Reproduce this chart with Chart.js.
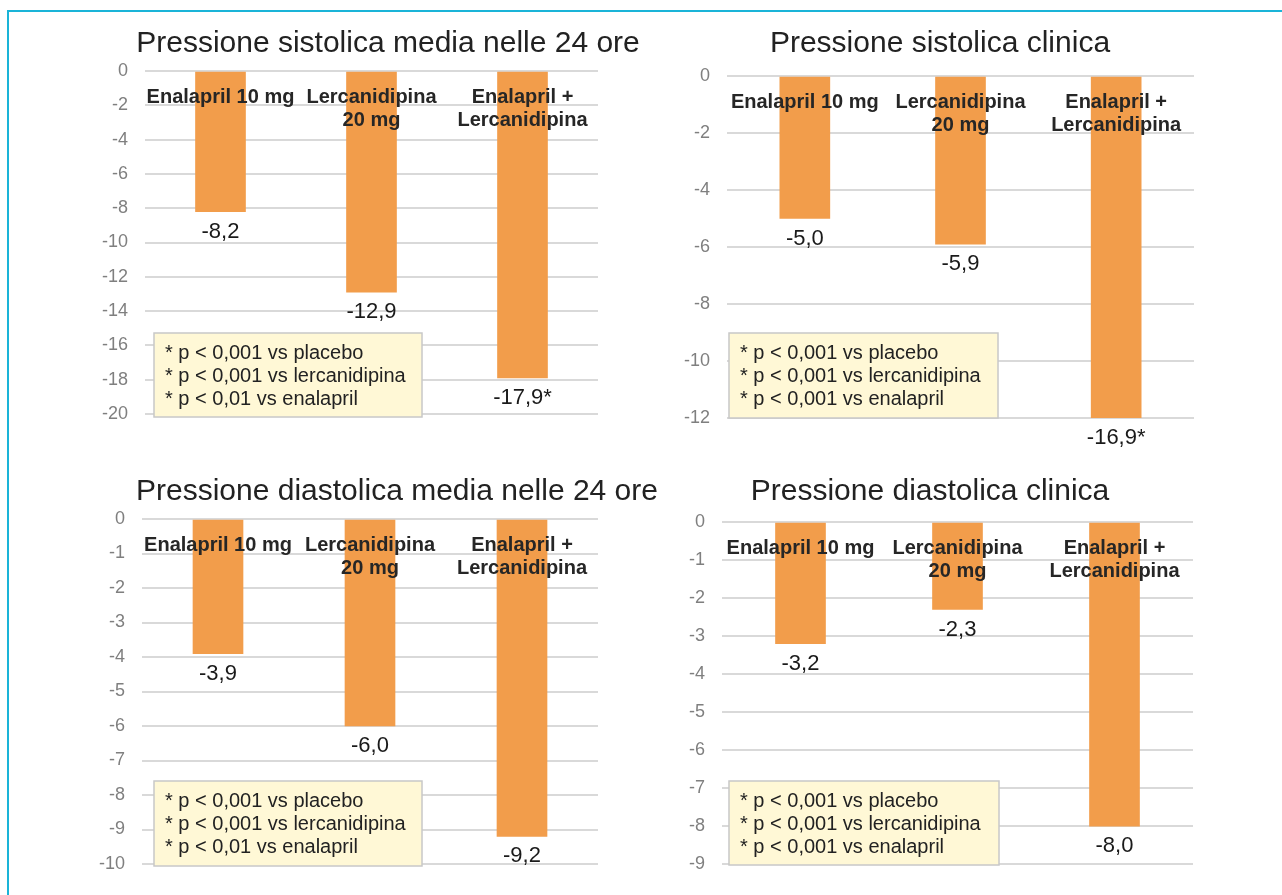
<!DOCTYPE html>
<html>
<head>
<meta charset="utf-8">
<title>Pressione arteriosa: enalapril, lercanidipina e associazione</title>
<script src="https://cdn.jsdelivr.net/npm/chart.js@4.4.1/dist/chart.umd.min.js"></script>
<style>
  html, body { margin: 0; padding: 0; background: #fff; width: 1282px; height: 895px; overflow: hidden; }
  #frame { position: absolute; left: 7px; top: 10px; width: 1400px; height: 1000px;
           border-left: 2px solid #1ab4d8; border-top: 2px solid #1ab4d8; }
  canvas { position: absolute; }
</style>
</head>
<body>
<div id="frame"></div>
<canvas id="c1"></canvas>
<canvas id="c2"></canvas>
<canvas id="c3"></canvas>
<canvas id="c4"></canvas>
<script>
// Treatment groups (multi-line category labels)
const categories = [['Enalapril 10 mg'], ['Lercanidipina', '20 mg'], ['Enalapril +', 'Lercanidipina']];

// Mean change from baseline (mmHg)
const sysAmbValues  = [-8.2, -12.9, -17.9];   // systolic, 24-hour mean
const sysClinValues = [-5.0, -5.9, -16.9];    // systolic, clinic
const diaAmbValues  = [-3.9, -6.0, -9.2];     // diastolic, 24-hour mean
const diaClinValues = [-3.2, -2.3, -8.0];     // diastolic, clinic

// Significance marks appended to the value labels
const marksStar = ['', '', '*'];
const marksNone = ['', '', ''];

// Y-axis tick values
const sysAmbTicks  = [0, -2, -4, -6, -8, -10, -12, -14, -16, -18, -20];
const sysClinTicks = [0, -2, -4, -6, -8, -10, -12];
const diaAmbTicks  = [0, -1, -2, -3, -4, -5, -6, -7, -8, -9, -10];
const diaClinTicks = [0, -1, -2, -3, -4, -5, -6, -7, -8, -9];

// Statistical notes
const notesA = ['* p < 0,001 vs placebo', '* p < 0,001 vs lercanidipina', '* p < 0,01 vs enalapril'];
const notesB = ['* p < 0,001 vs placebo', '* p < 0,001 vs lercanidipina', '* p < 0,001 vs enalapril'];

const FONT = "'Liberation Sans', Arial, Helvetica, sans-serif";
const BAR_COLOR = '#f29d4b';

// Page layout of each panel (canvas box, plot area, title anchor, notes box)
const panels = [
  { id: 'c1', title: 'Pressione sistolica media nelle 24 ore', values: sysAmbValues, ticks: sysAmbTicks,
    marks: marksStar, notes: notesA,
    box: { left: 10, top: 14, width: 640, height: 440 },
    area: { left: 145, top: 71, right: 598, bottom: 414 },
    titlePos: { x: 388, y: 44 },
    noteBox: { left: 154, top: 333, width: 268, height: 84 } },
  { id: 'c2', title: 'Pressione sistolica clinica', values: sysClinValues, ticks: sysClinTicks,
    marks: marksStar, notes: notesB,
    box: { left: 655, top: 14, width: 620, height: 440 },
    area: { left: 727, top: 76, right: 1194, bottom: 418 },
    titlePos: { x: 940, y: 44 },
    noteBox: { left: 729, top: 333, width: 269, height: 85 } },
  { id: 'c3', title: 'Pressione diastolica media nelle 24 ore', values: diaAmbValues, ticks: diaAmbTicks,
    marks: marksNone, notes: notesA,
    box: { left: 10, top: 460, width: 660, height: 432 },
    area: { left: 142, top: 519, right: 598, bottom: 864 },
    titlePos: { x: 397, y: 492 },
    noteBox: { left: 154, top: 781, width: 268, height: 85 } },
  { id: 'c4', title: 'Pressione diastolica clinica', values: diaClinValues, ticks: diaClinTicks,
    marks: marksNone, notes: notesB,
    box: { left: 655, top: 460, width: 620, height: 432 },
    area: { left: 722, top: 522, right: 1193, bottom: 865 },
    titlePos: { x: 930, y: 492 },
    noteBox: { left: 729, top: 781, width: 270, height: 84 } }
];

function formatValue(v, mark) {
  return v.toFixed(1).replace('.', ',') + mark;
}

// Draws category names, value labels, the notes box and the title
const panelText = {
  id: 'panelText',
  afterDatasetsDraw(chart, args, opts) {
    const p = opts.panel;
    const ctx = chart.ctx;
    const xs = chart.scales.x;
    const area = chart.chartArea;
    const ox = p.box.left, oy = p.box.top;
    ctx.save();

    // category names across the top of the plot
    ctx.fillStyle = '#262626';
    ctx.font = 'bold 20px ' + FONT;
    ctx.textAlign = 'center';
    ctx.textBaseline = 'middle';
    categories.forEach((lines, i) => {
      const x = xs.getPixelForValue(i);
      lines.forEach((t, j) => ctx.fillText(t, x, area.top + 26 + j * 23));
    });

    // value labels under each bar end
    const meta = chart.getDatasetMeta(0);
    ctx.fillStyle = '#1a1a1a';
    ctx.font = '22px ' + FONT;
    meta.data.forEach((bar, i) => {
      const yEnd = Math.min(bar.y, area.bottom);
      ctx.fillText(formatValue(p.values[i], p.marks[i]), bar.x, yEnd + 20);
    });

    // notes box
    const nb = p.noteBox;
    const bx = nb.left - ox, by = nb.top - oy;
    ctx.fillStyle = '#fff8d6';
    ctx.fillRect(bx, by, nb.width, nb.height);
    ctx.strokeStyle = '#c8c8c8';
    ctx.lineWidth = 1.5;
    ctx.strokeRect(bx, by, nb.width, nb.height);
    ctx.fillStyle = '#222';
    ctx.font = '20px ' + FONT;
    ctx.textAlign = 'left';
    p.notes.forEach((t, j) => ctx.fillText(t, bx + 11, by + 20 + j * 23));

    // title
    ctx.fillStyle = '#222';
    ctx.font = '30px ' + FONT;
    ctx.textAlign = 'center';
    ctx.fillText(p.title, p.titlePos.x - ox, p.titlePos.y - oy);
    ctx.restore();
  }
};

panels.forEach(p => {
  const cv = document.getElementById(p.id);
  cv.width = p.box.width;
  cv.height = p.box.height;
  cv.style.left = p.box.left + 'px';
  cv.style.top = p.box.top + 'px';
  cv.style.width = p.box.width + 'px';
  cv.style.height = p.box.height + 'px';

  const yMin = Math.min(...p.ticks), yMax = Math.max(...p.ticks);
  const axisWidth = p.area.left - p.box.left;

  new Chart(cv, {
    type: 'bar',
    data: {
      labels: categories.map(c => c.join(' ')),
      datasets: [{
        data: p.values,
        backgroundColor: BAR_COLOR,
        borderWidth: 0,
        barThickness: 50
      }]
    },
    options: {
      responsive: false,
      animation: false,
      devicePixelRatio: 1,
      layout: {
        padding: {
          left: 0,
          top: p.area.top - p.box.top,
          right: p.box.left + p.box.width - p.area.right,
          bottom: p.box.top + p.box.height - p.area.bottom
        }
      },
      plugins: {
        legend: { display: false },
        tooltip: { enabled: false },
        title: { display: false },
        panelText: { panel: p }
      },
      scales: {
        x: { display: false },
        y: {
          min: yMin,
          max: yMax,
          afterBuildTicks(scale) { scale.ticks = p.ticks.map(v => ({ value: v })); },
          afterFit(scale) { scale.width = axisWidth; },
          border: { display: false },
          grid: { color: '#d9d9d9', lineWidth: 2, drawTicks: false },
          ticks: {
            color: '#7f7f7f',
            font: { family: FONT, size: 18 },
            padding: 17
          }
        }
      }
    },
    plugins: [panelText]
  });
});
</script>
</body>
</html>
